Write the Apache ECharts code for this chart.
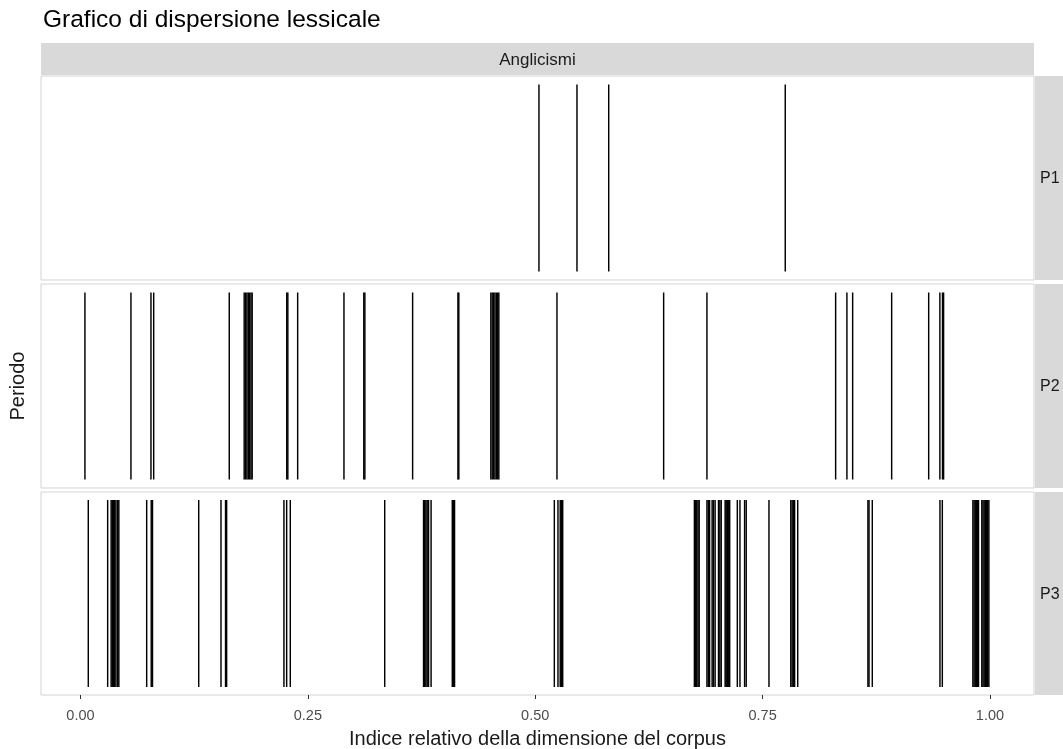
<!DOCTYPE html>
<html>
<head>
<meta charset="utf-8">
<script src="https://cdn.jsdelivr.net/npm/echarts@6/dist/echarts.min.js"></script>
<style>
html,body{margin:0;padding:0;background:#fff;}
#chart{width:1063px;height:749px;}
</style>
</head>
<body>
<div id="chart"></div>
<script>
const titleText = 'Grafico di dispersione lessicale';
const stripLabel = 'Anglicismi';
const panels = ['P1', 'P2', 'P3'];
const xAxisName = 'Indice relativo della dimensione del corpus';
const yAxisName = 'Periodo';
const xTicks = [0, 0.25, 0.5, 0.75, 1];

const p1 = [0.5041, 0.5459, 0.5808, 0.7749];

const p2 = [
  0.0049, 0.0555, 0.0775, 0.0805, 0.1636,
  0.1800, 0.1815, 0.1830, 0.1845, 0.1860, 0.1875, 0.1888,
  0.2268, 0.2280, 0.2388, 0.2897, 0.3115, 0.3127,
  0.3652, 0.4150, 0.4160,
  0.4512, 0.4527, 0.4542, 0.4557, 0.4572, 0.4587, 0.4600,
  0.5239, 0.6412, 0.6888, 0.8303, 0.8427, 0.8490, 0.8919, 0.9326,
  0.9449, 0.9478, 0.9490
];

const p3 = [
  0.0086, 0.0299,
  0.0337, 0.0350, 0.0363, 0.0376, 0.0390, 0.0408, 0.0422,
  0.0728, 0.0778, 0.0792,
  0.1300, 0.1545, 0.1595, 0.1607,
  0.2237, 0.2267, 0.2307,
  0.3345,
  0.3772, 0.3785, 0.3798, 0.3812, 0.3827, 0.3855,
  0.4088, 0.4100, 0.4113,
  0.5210, 0.5250, 0.5275, 0.5290, 0.5302,
  0.6750, 0.6763, 0.6776, 0.6790, 0.6803,
  0.6888, 0.6903, 0.6917,
  0.6945, 0.6960, 0.6978,
  0.7015, 0.7030, 0.7045,
  0.7088, 0.7100, 0.7115, 0.7128, 0.7138,
  0.7222, 0.7251,
  0.7302, 0.7320,
  0.7570,
  0.7810, 0.7825, 0.7840, 0.7852,
  0.7886,
  0.8658, 0.8670, 0.8706,
  0.9450, 0.9476,
  0.9812, 0.9825, 0.9838, 0.9851, 0.9864, 0.9874,
  0.9910, 0.9923, 0.9936, 0.9949, 0.9962, 0.9975, 0.9988
];

const panelData = [p1, p2, p3];

const FONT = 'Liberation Sans, Arial, sans-serif';
const xMin = -0.0434, xMax = 1.0484;
const gridLeft = 41, gridWidth = 993;
const gridTops = [76, 284, 492];
const gridHeights = [204, 204, 203];

const grids = [], xAxes = [], yAxes = [], series = [];
panels.forEach((p, i) => {
  const last = i === panels.length - 1;
  grids.push({
    left: gridLeft, top: gridTops[i], width: gridWidth, height: gridHeights[i],
    outerBoundsMode: 'none', containLabel: false,
    show: true, backgroundColor: '#fff', borderColor: '#d3d3d3', borderWidth: 1
  });
  xAxes.push({
    type: 'value', gridIndex: i, min: xMin, max: xMax,
    axisLine: {show: false},
    splitLine: {show: false},
    axisTick: {show: last, length: 4, lineStyle: {color: '#333'}, customValues: xTicks},
    axisLabel: {show: last, customValues: xTicks, margin: 13, color: '#4d4d4d', fontSize: 14.5, fontFamily: FONT,
      formatter: v => v.toFixed(2)},
    name: last ? xAxisName : '', nameLocation: 'middle', nameGap: 34,
    nameTextStyle: {color: '#1a1a1a', fontSize: 20, fontFamily: FONT, verticalAlign: 'top'}
  });
  yAxes.push({
    type: 'value', gridIndex: i, min: 0, max: 1,
    axisLine: {show: false}, axisTick: {show: false}, axisLabel: {show: false}, splitLine: {show: false},
    name: i === 1 ? yAxisName : '', nameLocation: 'middle', nameGap: 13, nameRotate: 90,
    nameTextStyle: {color: '#1a1a1a', fontSize: 20, fontFamily: FONT}
  });
  series.push({
    type: 'scatter', xAxisIndex: i, yAxisIndex: i,
    symbol: 'rect', symbolSize: [1.45, 187],
    itemStyle: {color: '#000', opacity: 1},
    silent: true,
    data: panelData[i].map(v => [v, 0.5])
  });
});

const graphics = [
  {type: 'rect', shape: {x: gridLeft, y: 43, width: gridWidth, height: 32}, style: {fill: '#d9d9d9'}, silent: true},
  {type: 'text', x: gridLeft + gridWidth / 2, y: 60, style: {text: stripLabel, fill: '#1a1a1a', font: '17px ' + FONT, textAlign: 'center', textVerticalAlign: 'middle'}}
];
panels.forEach((p, i) => {
  graphics.push({type: 'rect', shape: {x: gridLeft + gridWidth + 1, y: gridTops[i], width: 40, height: gridHeights[i]}, style: {fill: '#d9d9d9'}, silent: true});
  graphics.push({type: 'text', x: 1040, y: gridTops[i] + gridHeights[i] / 2 + 1, style: {text: p, fill: '#1a1a1a', font: '16px ' + FONT, textAlign: 'left', textVerticalAlign: 'middle'}});
});

const chart = echarts.init(document.getElementById('chart'), null, {renderer: 'canvas'});
chart.setOption({
  backgroundColor: '#fff',
  animation: false,
  title: {text: titleText, left: 38, top: 3, textStyle: {fontSize: 24.5, fontWeight: 'normal', color: '#000', fontFamily: FONT}},
  grid: grids,
  xAxis: xAxes,
  yAxis: yAxes,
  graphic: graphics,
  series: series
});
</script>
</body>
</html>
